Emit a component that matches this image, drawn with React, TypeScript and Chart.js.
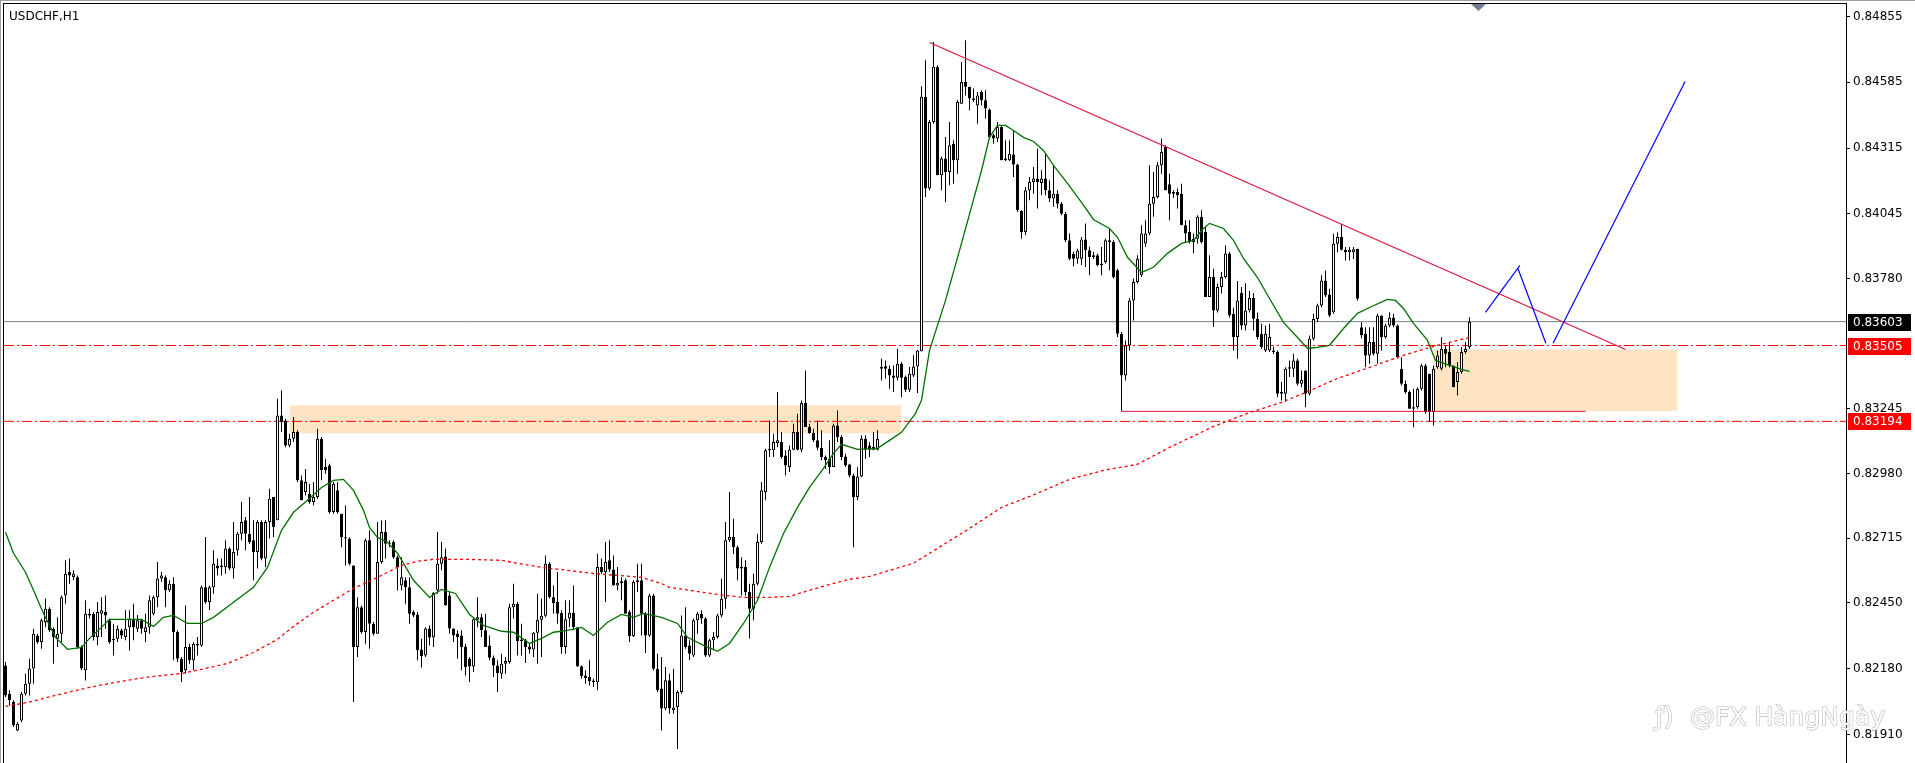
import React, { useEffect, useRef } from 'react';
import { Chart, registerables } from 'chart.js';

Chart.register(...registerables);

const PIP = 0.00001;
const SYMBOL = 'USDCHF,H1';
const WATERMARK = '@FX HàngNgày';

const OPEN = [
  82193,82077,82043,81926,81967,82077,82118,82180,82316,82289,
  82371,82425,82343,82302,82323,82480,82576,82555,82555,82268,
  82173,82398,82405,82309,82405,82412,82378,82302,82302,82337,
  82309,82350,82384,82343,82378,82330,82350,82405,82473,82549,
  82555,82501,82528,82330,82220,82173,82268,82214,82282,82275,
  82514,82453,82514,82603,82596,82596,82672,82590,82665,82733,
  82788,82733,82706,82658,82781,82631,82781,82884,82788,83218,
  83198,83095,83123,83150,82952,82904,82897,82863,82884,83123,
  83007,83013,82822,82911,82815,82713,82713,82603,82268,82432,
  82330,82706,82364,82323,82617,82740,82692,82699,82637,82521,
  82542,82514,82412,82402,82258,82234,82344,82307,82501,82610,
  82640,82480,82344,82323,82316,82271,82220,82189,82380,82391,
  82337,82275,82224,82193,82159,82200,82207,82432,82446,82299,
  82296,82271,82258,82327,82380,82397,82610,82473,82453,82409,
  82268,82385,82409,82350,82190,82152,82145,82131,82124,82597,
  82576,82624,82586,82521,82530,82542,82412,82313,82535,82542,
  82405,82316,82480,82179,82098,82016,82132,82009,82022,82084,
  82316,82275,82234,82378,82405,82385,82234,82296,82309,82398,
  82466,82706,82720,82678,82590,82597,82494,82425,82528,82699,
  82904,83075,83075,83105,83109,83054,83007,83078,83150,83078,
  83269,83171,83146,83116,83086,83048,83041,83007,83177,83130,
  83050,83017,82972,82883,82968,83123,83095,83090,83078,83417,
  83420,83410,83382,83373,83430,83376,83324,83382,83419,83482,
  84525,84149,84422,84648,84203,84272,84217,84333,84265,84497,
  84586,84566,84518,84490,84545,84511,84473,84367,84354,84401,
  84272,84265,84288,84248,84057,83971,84142,84176,84190,84172,
  84190,84142,84108,84128,84087,84046,83937,83880,83861,83861,
  83940,83896,83868,83875,83834,83848,83937,83930,83814,83553,
  83382,83505,83690,83766,83793,83923,83964,84087,84114,84244,
  84319,84166,84135,84135,84128,83998,83971,83930,83943,84033,
  83971,83704,83786,83649,83745,83786,83882,83635,83540,83720,
  83587,83650,83700,83615,83553,83485,83485,83485,83478,83307,
  83307,83410,83410,83444,83348,83403,83307,83533,83614,83669,
  83772,83714,83642,83922,83950,83898,83888,83888,83902,83580,
  83553,83464,83519,83471,83628,83539,83587,83619,83587,83410,
  83348,83314,83246,83252,83328,83423,83389,83232,83416,83410,
  83492,83478,83423,83355,83396,83478,83498
];

const HIGH = [
  82207,82091,82050,81960,82084,82159,82220,82343,82323,82384,
  82467,82432,82350,82391,82480,82624,82631,82583,82562,82275,
  82460,82425,82412,82453,82473,82480,82384,82364,82357,82343,
  82419,82419,82446,82400,82384,82405,82480,82480,82617,82576,
  82562,82542,82555,82337,82227,82439,82282,82289,82309,82521,
  82720,82520,82665,82631,82631,82706,82678,82781,82740,82863,
  82802,82884,82788,82788,82788,82788,82918,82884,83287,83321,
  83205,83143,83212,83157,82972,82999,82938,82945,83164,83130,
  83041,83020,82945,82945,82815,82849,82719,82603,82473,82439,
  82713,82747,82371,82781,82788,82788,82706,82706,82644,82637,
  82555,82555,82419,82412,82302,82350,82357,82494,82740,82699,
  82672,82494,82344,82337,82337,82282,82227,82385,82473,82405,
  82405,82316,82234,82214,82241,82227,82446,82528,82453,82364,
  82302,82282,82330,82487,82467,82644,82617,82521,82576,82419,
  82460,82460,82521,82350,82193,82173,82214,82138,82651,82631,
  82699,82706,82644,82597,82555,82549,82419,82542,82610,82610,
  82412,82487,82487,82241,82227,82186,82159,82179,82091,82398,
  82432,82296,82385,82412,82419,82391,82302,82330,82405,82549,
  82781,82904,82795,82685,82637,82624,82528,82569,82733,82945,
  83082,83198,83143,83314,83150,83075,83095,83184,83225,83280,
  83403,83184,83164,83198,83157,83054,83116,83184,83239,83137,
  83061,83020,82979,83006,83137,83137,83109,83150,83157,83451,
  83444,83423,83423,83492,83437,83382,83417,83465,83488,84568,
  84675,84430,84750,84655,84279,84360,84422,84347,84511,84668,
  84757,84566,84559,84545,84552,84552,84477,84374,84422,84408,
  84347,84347,84388,84251,84060,84155,84196,84237,84313,84224,
  84292,84183,84244,84142,84094,84053,83964,83890,83902,83950,
  84005,83910,83890,83882,83909,83943,83985,83937,83820,83560,
  83526,83700,83780,83875,83998,84019,84244,84217,84258,84354,
  84326,84210,84142,84149,84169,84019,84019,83964,84039,84060,
  83991,83875,83820,83759,83807,83916,83890,83660,83770,83745,
  83760,83730,83720,83640,83594,83587,83594,83500,83485,83355,
  83416,83444,83471,83451,83403,83403,83546,83635,83676,83793,
  83813,83738,83963,83970,84004,83909,83909,83909,83902,83600,
  83580,83580,83580,83635,83628,83594,83642,83635,83591,83457,
  83362,83321,83328,83334,83430,83430,83389,83423,83485,83539,
  83505,83519,83423,83437,83499,83519,83621
];

const LOW = [
  82063,82029,81940,81923,81960,82070,82070,82118,82282,82261,
  82350,82330,82200,82268,82289,82446,82528,82542,82261,82173,
  82131,82385,82295,82275,82309,82343,82282,82234,82289,82302,
  82296,82254,82296,82330,82323,82289,82323,82398,82432,82535,
  82432,82494,82214,82207,82125,82159,82200,82173,82234,82268,
  82446,82420,82487,82562,82562,82569,82583,82549,82644,82706,
  82665,82692,82542,82590,82624,82596,82713,82720,82788,83150,
  83088,83088,83109,82945,82870,82890,82856,82850,82877,82952,
  82979,82815,82815,82815,82678,82603,82603,82043,82227,82323,
  82282,82261,82316,82323,82610,82631,82678,82630,82500,82501,
  82446,82364,82391,82214,82184,82227,82275,82268,82487,82583,
  82439,82323,82289,82220,82173,82152,82125,82166,82350,82309,
  82268,82214,82145,82084,82138,82159,82200,82385,82234,82234,
  82203,82241,82227,82200,82227,82391,82467,82405,82364,82241,
  82241,82350,82337,82186,82138,82118,82111,82104,82091,82569,
  82453,82576,82521,82501,82460,82405,82289,82309,82494,82316,
  82244,82309,82173,82084,81926,82009,81995,81995,81850,82077,
  82261,82214,82227,82323,82364,82227,82227,82255,82303,82391,
  82425,82699,82650,82542,82480,82480,82303,82378,82521,82692,
  82870,83048,83048,83088,83041,82972,82986,83075,83075,83068,
  83171,83143,83109,83075,83034,83000,82979,83007,83109,83034,
  83007,82965,82678,82870,82965,83041,83048,83075,83075,83362,
  83369,83328,83314,83362,83293,83314,83314,83376,83310,83480,
  84114,84142,84415,84203,84142,84094,84162,84169,84210,84497,
  84531,84470,84504,84415,84490,84436,84353,84333,84340,84265,
  84262,84262,84196,84053,83943,83957,84101,84128,84067,84121,
  84121,84094,84074,84067,84039,83930,83855,83830,83840,83835,
  83827,83793,83860,83830,83793,83841,83814,83780,83540,83235,
  83362,83485,83608,83759,83786,83909,83957,84033,84108,84210,
  84142,84019,84110,84067,83998,83930,83923,83882,83923,83923,
  83704,83704,83581,83640,83718,83780,83620,83485,83451,83570,
  83567,83640,83567,83530,83492,83478,83478,83470,83293,83280,
  83273,83376,83376,83341,83334,83252,83300,83526,83601,83662,
  83704,83621,83635,83888,83895,83854,83854,83860,83690,83535,
  83416,83430,83464,83430,83485,83533,83580,83580,83451,83341,
  83307,83246,83170,83246,83321,83225,83191,83177,83410,83403,
  83416,83416,83334,83300,83389,83471,83492
];

const CLOSE = [
  82070,82050,81947,81954,82077,82118,82180,82323,82289,82378,
  82425,82337,82309,82323,82473,82569,82562,82569,82268,82180,
  82405,82405,82309,82412,82419,82398,82289,82296,82343,82316,
  82343,82384,82350,82378,82343,82350,82460,82473,82549,82562,
  82501,82528,82330,82220,82166,82268,82214,82282,82275,82514,
  82453,82514,82610,82590,82603,82672,82590,82658,82733,82781,
  82733,82699,82658,82781,82631,82781,82877,82761,83218,83191,
  83095,83123,83150,82952,82870,82945,82863,82884,83123,82993,
  82993,82822,82938,82822,82719,82719,82610,82268,82432,82330,
  82706,82364,82323,82617,82740,82692,82692,82637,82596,82555,
  82514,82405,82398,82255,82232,82344,82307,82491,82610,82637,
  82439,82344,82316,82309,82268,82186,82189,82382,82391,82337,
  82268,82224,82193,82162,82200,82211,82432,82446,82293,82293,
  82268,82258,82327,82380,82397,82610,82473,82449,82405,82268,
  82382,82409,82350,82190,82149,82141,82128,82124,82597,82576,
  82617,82586,82521,82532,82538,82405,82313,82535,82542,82405,
  82316,82480,82179,82091,82016,82132,82016,82020,82084,82316,
  82268,82241,82378,82405,82385,82234,82296,82309,82398,82466,
  82706,82720,82678,82590,82597,82494,82425,82528,82699,82911,
  83075,83082,83109,83116,83048,83013,83078,83150,83078,83269,
  83171,83146,83116,83086,83048,83034,83007,83177,83130,83048,
  83013,82972,82883,82968,83123,83078,83078,83078,83123,83410,
  83410,83382,83373,83430,83373,83324,83389,83419,83485,84525,
  84149,84422,84648,84203,84272,84217,84326,84265,84504,84586,
  84566,84518,84511,84531,84511,84477,84360,84354,84401,84265,
  84265,84292,84248,84060,83971,84142,84176,84190,84176,84190,
  84142,84108,84128,84087,84046,83937,83861,83861,83895,83940,
  83896,83868,83875,83834,83841,83937,83930,83786,83553,83382,
  83505,83690,83766,83861,83964,83964,84087,84114,84244,84299,
  84142,84128,84128,84121,83998,83964,83930,83943,84033,83930,
  83704,83786,83649,83745,83786,83882,83628,83540,83690,83587,
  83649,83700,83615,83540,83499,83553,83540,83478,83307,83314,
  83410,83416,83444,83348,83365,83307,83533,83614,83669,83772,
  83710,83628,83922,83950,83898,83888,83898,83900,83697,83547,
  83464,83519,83471,83628,83539,83587,83619,83587,83457,83348,
  83314,83246,83252,83328,83423,83232,83232,83410,83464,83492,
  83471,83423,83334,83396,83478,83492,83603
];

// moving averages: [bar index, price in 1e-5]
const GREEN_MA = [
  [0,82739],[2,82653],[5,82575],[7,82501],[9.5,82406],[12.5,82308],[15.5,82259],[19,82267],[21,82304],[24,82349],
  [26,82382],[30.5,82382],[34,82382],[37,82353],[39.5,82390],[42,82398],[45.5,82365],[49,82365],[52,82390],[57,82452],
  [62,82513],[65.5,82595],[69,82747],[72,82821],[75.5,82870],[79,82923],[82,82952],[84.5,82956],[87,82911],[89.5,82829],
  [91,82759],[93,82718],[95.5,82698],[98,82653],[102,82542],[106,82472],[109,82505],[112.5,82488],[116,82402],[119.5,82357],
  [124,82333],[127,82329],[131,82283],[134,82304],[137,82329],[140.5,82337],[144,82349],[147,82316],[150.5,82370],[154,82402],
  [157,82390],[159.5,82406],[164,82390],[168,82365],[170.5,82308],[174.5,82275],[178,82251],[181,82283],[184.5,82365],[188,82460],
  [191,82595],[194.5,82734],[198,82841],[201,82923],[204.5,83001],[207,83063],[209,83100],[213,83079],[218,83083],[221,83116],
  [224,83149],[227.5,83227],[229,83280],[231,83485],[235,83690],[239,83924],[244,84223],[246,84359],[248,84408],[250,84408],
  [252,84387],[254.5,84359],[257,84342],[259.5,84305],[262,84244],[265.5,84170],[269,84092],[272,84022],[276,83985],[278,83949],
  [280.5,83867],[284,83805],[287,83826],[290.5,83883],[294,83924],[297,83936],[299.5,83985],[301,84006],[304.5,83985],[307,83936],
  [309.5,83862],[313,83784],[316,83698],[319.5,83600],[323,83538],[325.5,83493],[328,83497],[331,83506],[334.5,83575],[338,83637],
  [341,83661],[345.5,83694],[347.5,83690],[349.5,83657],[352,83596],[355.5,83526],[357.5,83444],[361,83424],[364,83407],[366,83399]
];

const RED_MA = [
  [0,82025],[5.5,82041],[9.5,82058],[15.5,82082],[21,82103],[26,82119],[32,82136],[37,82148],[44,82160],[49,82177],
  [55.5,82201],[62,82246],[68,82300],[72,82353],[77,82411],[82,82460],[87,82509],[92,82546],[99,82603],[103,82620],
  [107,82628],[115.5,82628],[124,82624],[128,82612],[134,82595],[140.5,82583],[147,82570],[153,82562],[159,82554],[164,82529],
  [166,82513],[171,82501],[178,82484],[184.5,82472],[191,82472],[196,82476],[201,82501],[206,82525],[211,82546],[216,82558],
  [227,82612],[233,82673],[241,82755],[249,82841],[258,82899],[266,82956],[274.5,82993],[283,83018],[291,83087],[302,83173],
  [310.5,83227],[319,83272],[324.5,83309],[333,83370],[341,83415],[349.5,83465],[358,83506],[366,83538]
];

const TREND_LINE = [[231, 84748], [405, 83489]];
const SUPPORT_LINE = [[279, 83235], [395, 83235]];
const BLUE_LEG_1 = [[370, 83641], [378.6, 83834]];
const BLUE_LEG_2 = [[378.1, 83821], [385.1, 83514]];
const BLUE_LEG_3 = [[386.9, 83514], [419.9, 84588]];

const ZONE_LEFT_X = [71, 224];
const ZONE_LEFT_Y = [83260, 83145];
const ZONE_RIGHT_X = [357, 418];
const ZONE_RIGHT_Y = [83489, 83235];

const Y_TICKS = [0.84855, 0.84585, 0.84315, 0.84045, 0.8378, 0.83245, 0.8298, 0.82715, 0.8245, 0.8218, 0.8191];
const BID_PRICE = 0.83603;
const LEVEL_UPPER = 0.83505;
const LEVEL_LOWER = 0.83194;

const X_MIN = -0.375;
const X_MAX = 460.125;
const Y_MIN = 0.817927;
const Y_MAX = 0.849058;

const FONT = '"DejaVu Sans", sans-serif';

const pts = (arr: number[][]) => arr.map(([x, v]) => ({ x, y: v * PIP }));
const hline = (v: number) => [{ x: X_MIN, y: v }, { x: X_MAX, y: v }];

const overlayPlugin = {
  id: 'mt4overlay',
  afterDraw(chart: any) {
    const { ctx, chartArea, scales } = chart;
    const ys = scales.y;
    ctx.save();
    // window frame
    ctx.fillStyle = '#a0a0a0';
    ctx.fillRect(0, 0, chart.width, 1);
    ctx.fillRect(0, 0, 1, chart.height);
    ctx.fillStyle = '#000000';
    ctx.fillRect(3, 3, chartArea.right - 2, 1);
    ctx.fillRect(3, 3, 1, chart.height - 3);

    // symbol title
    ctx.font = '12px ' + FONT;
    ctx.fillStyle = '#000000';
    ctx.textAlign = 'left';
    ctx.textBaseline = 'alphabetic';
    ctx.fillText(SYMBOL, 9, 19.5);

    // shift marker
    ctx.fillStyle = '#708090';
    ctx.beginPath();
    ctx.moveTo(1471, 4);
    ctx.lineTo(1486, 4);
    ctx.lineTo(1478.5, 11);
    ctx.closePath();
    ctx.fill();

    // price labels on the axis
    const labels: [number, string][] = [[BID_PRICE, '#000000'], [LEVEL_UPPER, '#ff0000'], [LEVEL_LOWER, '#ff0000']];
    ctx.font = '12px ' + FONT;
    ctx.textBaseline = 'middle';
    for (const [v, bg] of labels) {
      const py = Math.round(ys.getPixelForValue(v));
      ctx.fillStyle = bg;
      ctx.fillRect(chartArea.right + 2, py - 8, 63, 17);
      ctx.fillStyle = '#ffffff';
      ctx.fillText(v.toFixed(5), chartArea.right + 7, py + 0.5);
    }

    // watermark
    ctx.font = '25px ' + FONT;
    ctx.textBaseline = 'alphabetic';
    ctx.lineWidth = 1.2;
    ctx.strokeStyle = '#b8b8b8';
    ctx.fillStyle = '#ffffff';
    ctx.strokeText('ƒ)', 1655, 725);
    ctx.fillText('ƒ)', 1655, 725);
    ctx.strokeText(WATERMARK, 1690, 725);
    ctx.fillText(WATERMARK, 1690, 725);
    ctx.restore();
  }
};

export default function App() {
  const ref = useRef<HTMLCanvasElement>(null);
  useEffect(() => {
    document.body.style.margin = '0';
    const idx = CLOSE.map((_, i) => i);
    const wicks = idx.map(i => ({ x: i, y: [LOW[i] * PIP, HIGH[i] * PIP] }));
    const bodies = idx.map(i => ({ x: i, y: [OPEN[i] * PIP, CLOSE[i] * PIP] }));
    const bodyColors = idx.map(i => (CLOSE[i] >= OPEN[i] ? '#ffffff' : '#000000'));
    const lineBase = { type: 'line', pointRadius: 0, borderWidth: 1, fill: false, tension: 0 };

    const datasets: any[] = [
      {
        ...lineBase,
        data: [{ x: ZONE_LEFT_X[0], y: ZONE_LEFT_Y[0] * PIP }, { x: ZONE_LEFT_X[1], y: ZONE_LEFT_Y[0] * PIP }],
        fill: { value: ZONE_LEFT_Y[1] * PIP },
        backgroundColor: '#FFE4C4',
        borderColor: 'rgba(0,0,0,0)',
        borderWidth: 0,
        order: 20
      },
      {
        ...lineBase,
        data: [{ x: ZONE_RIGHT_X[0], y: ZONE_RIGHT_Y[0] * PIP }, { x: ZONE_RIGHT_X[1], y: ZONE_RIGHT_Y[0] * PIP }],
        fill: { value: ZONE_RIGHT_Y[1] * PIP },
        backgroundColor: '#FFE4C4',
        borderColor: 'rgba(0,0,0,0)',
        borderWidth: 0,
        order: 20
      },
      { ...lineBase, data: hline(BID_PRICE), borderColor: '#708090', order: 15 },
      { ...lineBase, data: hline(LEVEL_UPPER), borderColor: '#ff0000', borderDash: [10, 3, 2, 3], order: 15 },
      { ...lineBase, data: hline(LEVEL_LOWER), borderColor: '#ff0000', borderDash: [10, 3, 2, 3], order: 15 },
      {
        type: 'bar',
        data: wicks,
        backgroundColor: '#000000',
        borderWidth: 0,
        grouped: false,
        categoryPercentage: 1,
        barPercentage: 0.25,
        inflateAmount: 0,
        order: 9
      },
      {
        type: 'bar',
        data: bodies,
        backgroundColor: bodyColors,
        borderColor: '#000000',
        borderWidth: 1,
        borderSkipped: false,
        grouped: false,
        categoryPercentage: 1,
        barPercentage: 0.75,
        inflateAmount: 0,
        minBarLength: 1,
        order: 8
      },
      { ...lineBase, data: pts(RED_MA), borderColor: '#ff0000', borderWidth: 1.3, borderDash: [3, 3], order: 6 },
      { ...lineBase, data: pts(GREEN_MA), borderColor: '#007000', borderWidth: 1.3, order: 5 },
      { ...lineBase, data: pts(SUPPORT_LINE), borderColor: '#DC143C', order: 4 },
      { ...lineBase, data: pts(TREND_LINE), borderColor: '#DC143C', borderWidth: 1.2, order: 4 },
      { ...lineBase, data: pts(BLUE_LEG_1), borderColor: '#0000ff', borderWidth: 1.2, order: 3 },
      { ...lineBase, data: pts(BLUE_LEG_2), borderColor: '#0000ff', borderWidth: 1.2, order: 3 },
      { ...lineBase, data: pts(BLUE_LEG_3), borderColor: '#0000ff', borderWidth: 1.2, order: 3 }
    ];

    const chart = new Chart(ref.current as HTMLCanvasElement, {
      type: 'bar',
      data: { datasets },
      options: {
        animation: false,
        responsive: false,
        maintainAspectRatio: false,
        devicePixelRatio: 1,
        events: [],
        layout: { padding: { left: 4, top: 4, right: 0, bottom: 0 } },
        plugins: { legend: { display: false }, tooltip: { enabled: false }, title: { display: false } },
        scales: {
          x: { type: 'linear', min: X_MIN, max: X_MAX, bounds: 'data', offset: false, display: false },
          y: {
            type: 'linear',
            position: 'right',
            min: Y_MIN,
            max: Y_MAX,
            bounds: 'data',
            afterBuildTicks: (s: any) => { s.ticks = Y_TICKS.map(v => ({ value: v })); },
            afterFit: (s: any) => { s.width = 69; s.paddingTop = 0; s.paddingBottom = 0; },
            ticks: {
              callback: (v: any) => Number(v).toFixed(5),
              font: { family: FONT, size: 12 },
              color: '#000000',
              padding: 3,
              autoSkip: false,
              maxRotation: 0
            },
            grid: { display: true, drawOnChartArea: false, drawTicks: true, tickLength: 4, color: '#000000', lineWidth: 1 },
            border: { display: true, color: '#000000', width: 1 }
          }
        }
      } as any,
      plugins: [overlayPlugin]
    } as any);
    return () => chart.destroy();
  }, []);
  return (
    <div style={{ width: 1915, height: 763, position: 'relative' }}>
      <canvas ref={ref} width={1915} height={763} style={{ display: 'block', width: 1915, height: 763 }} />
    </div>
  );
}
